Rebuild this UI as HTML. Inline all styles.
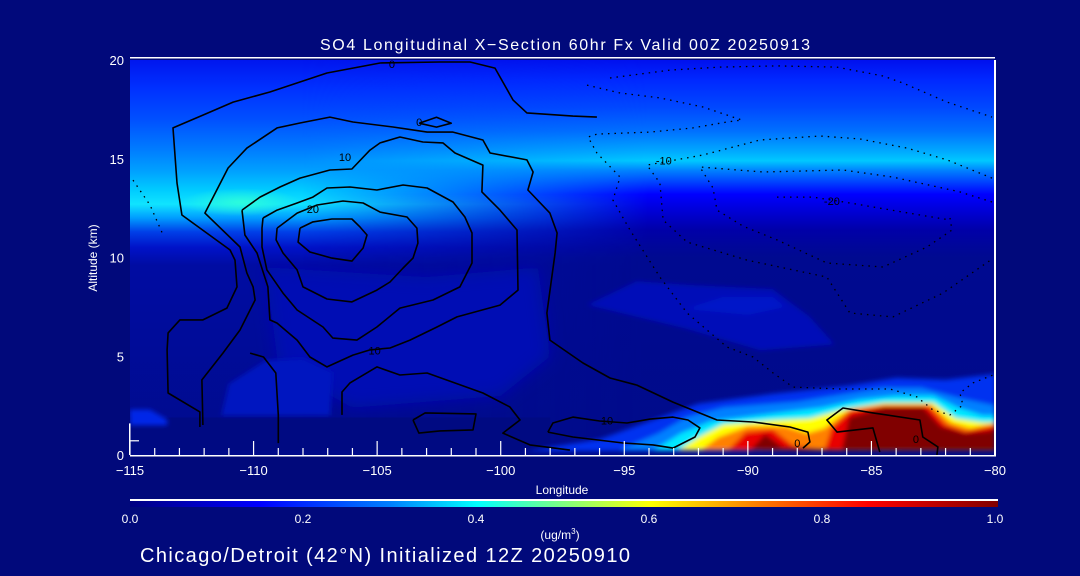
<!DOCTYPE html>
<html><head><meta charset="utf-8"><style>
html,body{margin:0;padding:0;background:#01097b;}
svg{display:block;font-family:"Liberation Sans",sans-serif;}
</style></head><body>
<svg id="chart" width="1080" height="576" viewBox="0 0 1080 576" xmlns="http://www.w3.org/2000/svg">
<defs>
<linearGradient id="gLeft" x1="0" y1="0" x2="0" y2="1">
<stop offset="0" stop-color="#0016ee"/><stop offset="0.07" stop-color="#0030ff"/>
<stop offset="0.15" stop-color="#0050ff"/><stop offset="0.22" stop-color="#0078ff"/>
<stop offset="0.28" stop-color="#00a0ff"/><stop offset="0.33" stop-color="#00ccff"/>
<stop offset="0.365" stop-color="#10e4ff"/><stop offset="0.40" stop-color="#009cff"/>
<stop offset="0.435" stop-color="#0040e8"/><stop offset="0.475" stop-color="#0012c8"/>
<stop offset="0.52" stop-color="#000ca2"/><stop offset="1" stop-color="#000b8c"/>
</linearGradient>
<linearGradient id="gRight" x1="0" y1="0" x2="0" y2="1">
<stop offset="0" stop-color="#0010ee"/><stop offset="0.05" stop-color="#0028ff"/>
<stop offset="0.12" stop-color="#0048ff"/><stop offset="0.18" stop-color="#0070ff"/>
<stop offset="0.23" stop-color="#00a8ff"/><stop offset="0.255" stop-color="#00c8ff"/>
<stop offset="0.28" stop-color="#0080ff"/><stop offset="0.31" stop-color="#0040ff"/>
<stop offset="0.34" stop-color="#0000ff"/><stop offset="0.38" stop-color="#0000d8"/>
<stop offset="0.43" stop-color="#0000a8"/><stop offset="0.50" stop-color="#000a90"/>
<stop offset="1" stop-color="#000b8a"/>
</linearGradient>
<linearGradient id="gMask" x1="0" y1="0" x2="1" y2="0">
<stop offset="0.28" stop-color="#000"/><stop offset="0.6" stop-color="#fff"/>
</linearGradient>
<mask id="mRight"><rect x="0" y="0" width="1080" height="576" fill="url(#gMask)"/></mask>
<radialGradient id="gCyanBlob"><stop offset="0" stop-color="#30ffd8" stop-opacity="0.9"/><stop offset="1" stop-color="#30ffd8" stop-opacity="0"/></radialGradient>
<linearGradient id="gBar" x1="0" y1="0" x2="1" y2="0">
<stop offset="0" stop-color="#000080"/><stop offset="0.15" stop-color="#0000ff"/>
<stop offset="0.3" stop-color="#0080ff"/><stop offset="0.4" stop-color="#00ffff"/>
<stop offset="0.5" stop-color="#80ff80"/><stop offset="0.6" stop-color="#ffff00"/>
<stop offset="0.72" stop-color="#ff8000"/><stop offset="0.85" stop-color="#ff0000"/>
<stop offset="1" stop-color="#800000"/>
</linearGradient>
<filter id="fBlur" x="-5%" y="-5%" width="110%" height="110%"><feGaussianBlur stdDeviation="2.5"/></filter>
<filter id="fBlurBig" x="-10%" y="-10%" width="120%" height="120%"><feGaussianBlur stdDeviation="8"/></filter>
<clipPath id="cPlot"><rect x="130" y="60" width="865" height="395"/></clipPath>
</defs>
<g id="field" clip-path="url(#cPlot)"></g>
<g id="contours" clip-path="url(#cPlot)"></g>
<g id="axes"></g>
<text x="565" y="50" fill="#fff" font-size="16" text-anchor="middle" textLength="490">SO4 Longitudinal X−Section 60hr  Fx Valid 00Z 20250913</text>
<text x="562" y="494" fill="#fff" font-size="12" text-anchor="middle">Longitude</text>
<text transform="translate(97,258) rotate(-90)" fill="#fff" font-size="12" text-anchor="middle">Altitude (km)</text>
<rect x="130" y="499" width="868" height="2" fill="#fff"/>
<rect x="130" y="501" width="868" height="6" fill="url(#gBar)"/>
<g id="barlabels"></g>
<text x="560" y="539" fill="#fff" font-size="12" text-anchor="middle">(ug/m<tspan font-size="8" dy="-5">3</tspan><tspan dy="5">)</tspan></text>
<text x="140" y="562" fill="#fff" font-size="20" textLength="490">Chicago/Detroit (42°N) Initialized 12Z 20250910</text>
</svg>
<script>
const xTicks = [-115,-110,-105,-100,-95,-90,-85,-80];
const yTicks = [0,5,10,15,20];
const barTicks = ["0.0","0.2","0.4","0.6","0.8","1.0"];
// contour levels as [lon, alt] vertices
const contourOuter = [[-112.17,1.42],[-112.17,2.18],[-113.46,3.14],[-113.5,5.32],[-113.46,6.18],[-112.98,6.84],[-112.05,6.84],[-111.08,7.44],[-110.67,8.51],[-110.75,9.87],[-110.95,10.38],[-112.9,12.15],[-113.1,13.77],[-113.26,16.56],[-112.05,17.21],[-110.83,17.87],[-109.34,18.38],[-107.03,19.34],[-104.88,19.85],[-102.46,19.9],[-101.24,19.9],[-100.23,19.59],[-99.5,17.97],[-98.94,17.32],[-97.08,17.16],[-96.11,17.11]];
const contour5 = [[-112.05,1.52],[-112.09,3.8],[-111.24,5.16],[-110.55,6.33],[-109.94,7.85],[-110.02,8.51],[-110.27,9.21],[-110.55,10.53],[-111.97,12.25],[-111.03,14.53],[-110.27,15.54],[-109.05,16.56],[-108.12,16.81],[-106.91,17.11],[-105.98,16.86],[-104.36,16.61],[-102.98,16.35],[-101.93,16.35],[-100.72,15.95],[-100.43,15.29],[-98.94,14.94],[-98.69,14.33],[-98.9,13.42],[-98.01,12.25],[-97.72,11.24],[-97.8,10.23],[-98.13,7.19],[-98.01,5.82],[-96.67,4.66],[-95.58,3.9],[-94.49,3.54],[-93.03,2.68],[-91.25,1.77],[-89.79,1.67],[-88.3,1.42],[-87.57,1.16],[-87.49,0.66],[-87.77,0.35]];
const contour10 = [[-110.47,12.4],[-109.74,13.06],[-108.93,13.57],[-108.12,14.02],[-106.91,14.43],[-106.02,14.48],[-105.29,15.44],[-104.88,15.8],[-104.08,16.1],[-103.15,15.85],[-102.34,15.8],[-101.85,15.29],[-100.72,14.68],[-100.76,13.32],[-100.03,12.4],[-99.34,11.39],[-99.3,8.35],[-100.03,7.59],[-101.77,6.99],[-102.58,6.48],[-103.67,5.82],[-104.48,5.42],[-105.29,5.32],[-105.98,5.06],[-107.03,4.46],[-107.72,4.96],[-108.24,5.82],[-109.05,6.68],[-109.34,6.84],[-109.42,8.51],[-109.86,10.23],[-110.35,11.14],[-110.47,12.4]];
const contour15 = [[-109.62,12.0],[-109.05,12.4],[-108.24,12.76],[-107.6,13.06],[-107.03,13.52],[-106.1,13.57],[-105.01,13.42],[-103.95,13.67],[-102.98,13.52],[-101.93,12.81],[-101.45,12.05],[-101.16,11.24],[-101.16,9.72],[-101.65,8.51],[-102.74,7.85],[-104.08,7.44],[-105.01,6.48],[-105.82,5.82],[-106.79,5.92],[-107.19,6.48],[-108.24,7.34],[-108.81,8.2],[-109.46,9.37],[-109.66,10.53],[-109.66,11.49],[-109.62,12.0]];
const contour20 = [[-109.05,11.49],[-108.24,12.25],[-107.43,12.66],[-106.38,12.86],[-105.57,12.76],[-104.88,12.3],[-103.79,12.05],[-103.39,11.49],[-103.35,10.73],[-103.55,9.97],[-103.95,9.47],[-104.48,8.76],[-105.01,8.35],[-106.02,7.75],[-107.03,7.9],[-108.0,8.51],[-108.24,9.37],[-108.81,10.23],[-109.09,10.89],[-109.05,11.49]];
const contour25 = [[-108.12,11.49],[-107.6,11.8],[-106.83,11.95],[-106.02,11.95],[-105.69,11.54],[-105.41,11.14],[-105.57,10.48],[-106.02,9.82],[-106.83,9.97],[-107.72,10.28],[-108.2,10.78],[-108.12,11.49]];
const contourLow1 = [[-110.14,5.16],[-109.6,4.96],[-109.1,4.15],[-109.0,2.03],[-109.0,0.6]];
const contourLow2 = [[-106.42,2.03],[-106.42,3.19],[-106.1,3.65],[-105.01,4.46],[-104.08,4.05],[-102.98,4.15],[-100.72,3.14],[-99.63,2.43],[-99.22,1.77],[-99.91,1.11],[-98.82,0.51],[-97.2,0.25]];
const contourLoopA = [[-103.55,1.77],[-103.06,2.13],[-101.0,2.08],[-101.12,1.27],[-102.46,1.22],[-103.31,1.11],[-103.55,1.77]];
const contourLoopB = [[-98.09,1.16],[-97.89,1.62],[-97.08,1.92],[-96.0,1.72],[-94.89,1.62],[-93.96,1.82],[-93.03,1.92],[-92.42,1.77],[-91.94,1.37],[-92.14,0.91],[-93.03,0.35],[-93.84,0.51],[-95.05,0.61],[-97.08,0.91],[-98.09,1.16]];
const contourLoopC = [[-82.35,0.0],[-82.31,0.41],[-82.92,0.91],[-83.04,1.77],[-84.94,2.13],[-86.15,2.38],[-86.8,1.77],[-86.39,1.16],[-84.94,1.37],[-84.66,0.15]];
const contourTiny = [[-103.3,16.8],[-102.6,17.1],[-102.0,16.8],[-102.6,16.6],[-103.3,16.8]];
const dottedA = [[-95.58,19.09],[-93.15,19.49],[-91.13,19.64],[-88.82,19.7],[-86.4,19.64],[-84.53,19.19],[-83.72,18.83],[-81.94,17.87],[-80.12,17.11]];
const dottedB = [[-96.51,18.73],[-95.17,18.33],[-93.56,18.08],[-91.82,17.62],[-90.6,17.11],[-90.24,16.96],[-90.85,16.86],[-92.22,16.56],[-93.96,16.35],[-96.11,16.25],[-96.47,16.1],[-96.11,15.29],[-95.17,14.07],[-95.46,12.91],[-94.77,11.39],[-93.56,9.01],[-92.46,7.19],[-90.85,5.47],[-89.79,4.96],[-88.98,4.15],[-88.17,3.44],[-86.27,3.34],[-84.25,3.34],[-83.16,2.94],[-82.51,2.28],[-81.82,2.03],[-81.3,2.53],[-81.42,3.14],[-80.89,3.65],[-80.08,4.05]];
const dottedC = [[-80.12,14.02],[-81.94,14.94],[-83.56,15.54],[-85.46,16.0],[-87.08,16.15],[-89.51,15.95],[-91.82,15.19],[-94.08,14.68],[-93.56,13.77],[-93.43,11.9],[-92.46,10.78],[-90.04,9.87],[-86.8,9.01],[-85.87,7.19],[-84.13,6.99],[-82.11,8.2],[-80.12,9.92]];
const dottedD = [[-80.12,12.81],[-81.42,13.32],[-84.13,14.07],[-86.15,14.43],[-89.39,14.33],[-91.94,14.58],[-91.41,13.52],[-91.25,12.4],[-90.2,11.59],[-88.82,10.89],[-86.8,9.72],[-84.53,9.52],[-82.75,10.53],[-81.74,11.39],[-81.82,12.0]];
const dottedE = [[-88.82,13.06],[-87.37,13.06],[-85.87,12.76],[-83.04,12.15],[-81.82,11.9]];
const dottedF = [[-114.88,13.92],[-114.19,12.66],[-113.66,11.14]];
const solidContours = [contourOuter,contour5,contour10,contour15,contour20,contour25,contourLow1,contourLow2,contourLoopA,contourLoopB,contourLoopC,contourTiny];
const dottedContours = [dottedA,dottedB,dottedC,dottedD,dottedE,dottedF];
const contourLabels = [["0",-104.4,19.8],["0",-103.3,16.85],["10",-106.3,15.1],["20",-107.6,12.45],["10",-105.1,5.3],["-10",-93.4,14.9],["-20",-86.6,12.85],["10",-95.7,1.75],["0",-88.0,0.6],["0",-83.2,0.8]];
// hot-spot concentration layers (lon, alt) and their colours
const hotColors = ["#0030f0","#0080ff","#00e8ff","#ffff00","#ff8000","#e80000","#800000"];
const hotLayers = [
 [[-99,0.2],[-96,0.8],[-94,1.7],[-92,2.6],[-89,3.1],[-86,3.5],[-84,3.9],[-82,3.8],[-80,4.1],[-80,0.25]],
 [[-95.2,0.25],[-93.6,1.1],[-92.5,1.9],[-91,2.4],[-88,2.7],[-86,3.1],[-84.5,3.4],[-83,3.4],[-81.5,2.9],[-80,2.5],[-80,0.25]],
 [[-93.8,0.25],[-92.7,1.1],[-91.5,1.7],[-89,2.1],[-87,2.4],[-85.5,2.8],[-84,3.0],[-82.5,3.0],[-81.5,2.4],[-80.5,2.0],[-80,2.0],[-80,0.25]],
 [[-92.8,0.25],[-92.0,0.9],[-91,1.55],[-89,1.75],[-87.5,1.85],[-86,2.35],[-84.5,2.65],[-82.5,2.65],[-81.6,1.85],[-80.5,1.65],[-80,1.65],[-80,0.25]],
 [[-91.9,0.25],[-91.2,0.9],[-90,1.45],[-88.5,1.45],[-87.6,1.1],[-86.9,1.35],[-85.9,2.3],[-84.5,2.55],[-82.6,2.55],[-81.8,1.65],[-81,1.35],[-80,1.6],[-80,0.25]],
 [[-90.8,0.25],[-90.1,1.15],[-89,1.3],[-88.2,0.5],[-86.9,0.25],[-86.6,1.4],[-85.8,2.3],[-84.5,2.5],[-82.7,2.5],[-82,1.55],[-81.2,1.2],[-80,1.5],[-80,0.25]],
 [[-89.9,0.25],[-89.3,1.05],[-88.6,0.4],[-86.2,0.25],[-85.9,1.9],[-84.5,2.4],[-82.9,2.4],[-82.2,1.45],[-81.2,1.1],[-80.3,1.2],[-80,1.3],[-80,0.25]]
];
// weak blue patches
const patchColors = ["#0012c0","#0010b8","#0018c8","#0028e8","#0010b4"];
const patches = [
 [[-111.3,2.0],[-111.0,3.6],[-109.5,4.8],[-108.0,4.9],[-106.8,4.2],[-106.9,2.0]],
 [[-96.5,7.6],[-94.5,8.8],[-92.3,8.6],[-89,8.4],[-87.5,7.0],[-86.5,5.6],[-89.5,5.3],[-92.5,6.4],[-95.5,7.3]],
 [[-92.5,7.4],[-91,8.0],[-89,8.0],[-88.5,7.5],[-90,7.1]],
 [[-115,2.3],[-114.2,2.3],[-113.5,1.8],[-113.5,1.5],[-115,1.5]],
 [[-109.5,9.5],[-103,9.0],[-98.5,9.5],[-98,5.0],[-100,3.0],[-106,2.4],[-109.0,4.5]]
];
const SVGNS="http://www.w3.org/2000/svg";
const X0=130,X1=995,Y0=455,Y1=60;
function xs(lon){return X0+(lon+115)/35*(X1-X0);}
function ys(alt){return Y0-alt/20*(Y0-Y1);}
function mk(tag,attrs,parent){const e=document.createElementNS(SVGNS,tag);for(const k in attrs)e.setAttribute(k,attrs[k]);parent.appendChild(e);return e;}
function pts(arr){return arr.map(p=>xs(p[0]).toFixed(1)+","+ys(p[1]).toFixed(1)).join(" ");}
const field=document.getElementById("field");
let r=mk("rect",{x:xs(-115),y:ys(20),width:xs(-80)-xs(-115),height:ys(0)-ys(20),fill:"url(#gLeft)"},field);


r=mk("rect",{x:xs(-115),y:ys(20),width:xs(-80)-xs(-115),height:ys(0)-ys(20),fill:"url(#gRight)",mask:"url(#mRight)"},field);


r=mk("ellipse",{cx:xs(-110.5),cy:ys(12.8),rx:60,ry:14,fill:"url(#gCyanBlob)"},field);


const bigG=mk("g",{filter:"url(#fBlurBig)"},field);
const midP=mk("polygon",{points:pts(patches[4]),fill:patchColors[4]},bigG);


r=mk("rect",{x:xs(-115),y:ys(0.25),width:xs(-80)-xs(-115),height:ys(0)-ys(0.25)+1,fill:"#000b8a"},field);


r=mk("rect",{x:xs(-115),y:ys(1.9),width:xs(-98)-xs(-115),height:ys(0.25)-ys(1.9),fill:"#000a82"},field);


const blurG=mk("g",{filter:"url(#fBlur)"},field);
patches.slice(0,4).forEach((p,i)=>{const e=mk("polygon",{points:pts(p),fill:patchColors[i]},blurG);

});
hotLayers.forEach((p,i)=>{const e=mk("polygon",{points:pts(p),fill:hotColors[i]},blurG);

});
const cg=document.getElementById("contours");
solidContours.forEach(c=>{const e=mk("polyline",{points:pts(c),fill:"none",stroke:"#000","stroke-width":1.6,"stroke-linejoin":"round"},cg);

});
dottedContours.forEach(c=>{const e=mk("polyline",{points:pts(c),fill:"none",stroke:"#000","stroke-width":1.3,"stroke-dasharray":"1.5 5"},cg);

});
contourLabels.forEach(l=>{const e=mk("text",{x:xs(l[1]),y:ys(l[2])+4,fill:"#000","font-size":11,"text-anchor":"middle"},cg);e.textContent=l[0];

});
const ax=document.getElementById("axes");
let l=mk("rect",{x:X0,y:Y1-3,width:X1-X0,height:1.5,fill:"#fff"},ax);


l=mk("rect",{x:X1-1,y:Y1,width:2,height:Y0-Y1,fill:"#fff"},ax);


l=mk("rect",{x:X0,y:Y0,width:X1-X0+1,height:1.5,fill:"#fff"},ax);


l=mk("rect",{x:X0-1,y:ys(1.6),width:1.5,height:ys(0)-ys(1.6),fill:"#fff"},ax);


l=mk("rect",{x:X0,y:ys(0.75),width:9,height:1.2,fill:"#fff"},ax);


for(let v=-115;v<=-80;v++){const major=(v%5===0);const t=mk("rect",{x:xs(v)-0.6,y:Y0-(major?14:7),width:1.2,height:(major?14:7),fill:"#fff"},ax);

}
xTicks.forEach(v=>{const t=mk("text",{x:xs(v),y:Y0+20,fill:"#fff","font-size":13,"text-anchor":"middle"},ax);t.textContent=String(v).replace("-","−");

});
yTicks.forEach(v=>{const t=mk("text",{x:X0-6,y:ys(v)+5,fill:"#fff","font-size":13,"text-anchor":"end"},ax);t.textContent=String(v);

});
const bl=document.getElementById("barlabels");
barTicks.forEach((v,i)=>{const t=mk("text",{x:130+i*(865/(barTicks.length-1)),y:523,fill:"#fff","font-size":12,"text-anchor":"middle"},bl);t.textContent=v;

});
</script>
</body></html>
